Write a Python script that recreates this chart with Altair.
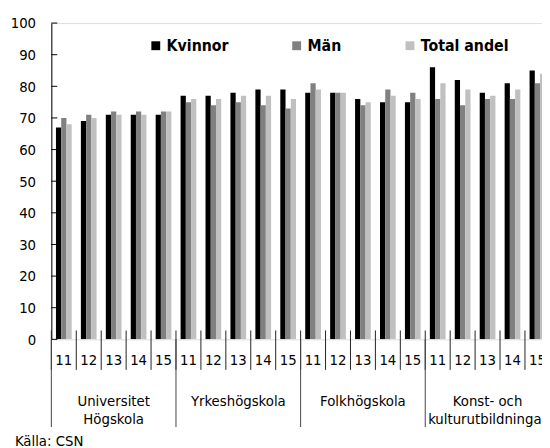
import altair as alt
import pandas as pd

FONT = "'Liberation Sans Narrow', 'Arial Narrow', 'DejaVu Sans Condensed', sans-serif"

categories = [["Universitet", "Högskola"], ["Yrkeshögskola"], ["Folkhögskola"],
              ["Konst- och", "kulturutbildningar"]]
years = ["11", "12", "13", "14", "15"]
series = ["Kvinnor", "Män", "Total andel"]
kvinnor = [67, 69, 71, 71, 71, 77, 77, 78, 79, 79, 78, 78, 76, 75, 75, 86, 82, 78, 81, 85]
man = [70, 71, 72, 72, 72, 75, 74, 75, 74, 73, 81, 78, 74, 79, 78, 76, 74, 76, 76, 81]
total = [68, 70, 71, 71, 72, 76, 76, 77, 77, 76, 79, 78, 75, 77, 76, 81, 79, 77, 79, 84]
colors = ["#000000", "#808080", "#c0c0c0"]
y_ticks = list(range(0, 101, 10))
source = "Källa: CSN"

rows, keys, year_rows, cat_rows = [], [], [], []
for ci, cat in enumerate(categories):
    cat_rows.append({"pos": ci * len(years) + len(years) / 2, "lines": cat})
    for yi, yr in enumerate(years):
        i = ci * len(years) + yi
        key = f"{ci}-{yr}"
        keys.append(key)
        year_rows.append({"pos": i + 0.5, "label": yr})
        for s, vals in zip(series, [kvinnor, man, total]):
            rows.append({"key": key, "serie": s, "value": vals[i]})

bars_df = pd.DataFrame(rows)
year_df = pd.DataFrame(year_rows)
cat_df = pd.DataFrame(cat_rows)
bound_df = pd.DataFrame({"pos": list(range(len(keys) + 1))})
catbound_df = pd.DataFrame({"pos": list(range(0, len(keys) + 1, len(years)))})
ytick_df = pd.DataFrame({"value": y_ticks})
src_df = pd.DataFrame({"t": [source]})

RANGE = [0, 506]
qx = alt.Scale(domain=[0, len(keys)], range=RANGE, nice=False, zero=False)
yscale = alt.Scale(domain=[0, 100], nice=False)
yaxis = alt.Axis(values=y_ticks, tickSize=0, grid=False, domainColor="black",
                 labelPadding=16, labelFontSize=15, labelColor="black",
                 labelOverlap=False, labelFont=FONT, title=None)

yticks = alt.Chart(ytick_df).mark_rule(color="black", strokeWidth=1).encode(
    y=alt.Y("value:Q", scale=yscale, axis=yaxis), x=alt.value(0), x2=alt.value(6))

bars = alt.Chart(bars_df).mark_bar(clip=True).encode(
    x=alt.X("key:N", sort=keys, axis=None,
            scale=alt.Scale(domain=keys, range=RANGE, paddingInner=0.37, paddingOuter=0.185)),
    xOffset=alt.XOffset("serie:N", sort=series,
                        scale=alt.Scale(domain=series, paddingInner=0, paddingOuter=0)),
    y=alt.Y("value:Q", scale=yscale, axis=yaxis),
    color=alt.Color("serie:N", sort=series, scale=alt.Scale(domain=series, range=colors),
                    legend=alt.Legend(orient="none", legendX=98, legendY=15,
                                      direction="horizontal", title=None,
                                      symbolType="square", symbolSize=81,
                                      symbolStrokeWidth=0, labelFont=FONT,
                                      labelFontWeight="bold", labelFontSize=16,
                                      labelColor="black", columnPadding=61,
                                      labelOffset=3, symbolOffset=0, padding=0)),
)

bounds = alt.Chart(bound_df).mark_rule(color="#222", strokeWidth=1).encode(
    x=alt.X("pos:Q", scale=qx, axis=None), y=alt.value(312), y2=alt.value(352))

catbounds = alt.Chart(catbound_df).mark_rule(color="#444", strokeWidth=1).encode(
    x=alt.X("pos:Q", scale=qx, axis=None), y=alt.value(321), y2=alt.value(410))

year_labels = alt.Chart(year_df).mark_text(font=FONT, fontSize=15, color="black",
                                           baseline="middle", align="center").encode(
    x=alt.X("pos:Q", scale=qx, axis=None), y=alt.value(342), text="label:N")

cat_labels = alt.Chart(cat_df).mark_text(font=FONT, fontSize=15, color="black",
                                         baseline="alphabetic", align="center",
                                         lineHeight=18).encode(
    x=alt.X("pos:Q", scale=qx, axis=None), y=alt.value(389), text="lines")

src = alt.Chart(src_df).mark_text(font=FONT, fontSize=15, color="black",
                                  baseline="alphabetic", align="left").encode(
    x=alt.value(-37), y=alt.value(429), text="t:N")

chart = alt.layer(bars, yticks, bounds, catbounds, year_labels, cat_labels, src).resolve_scale(
    x="independent"
).properties(
    width=498, height=321,
    autosize=alt.AutoSizeParams(type="none"),
    padding={"left": 44, "top": 12, "right": 0, "bottom": 107},
).configure_view(stroke="black", strokeWidth=1).configure(background="white")

chart.save("out.html", embed_options={"renderer": "svg", "actions": False})
